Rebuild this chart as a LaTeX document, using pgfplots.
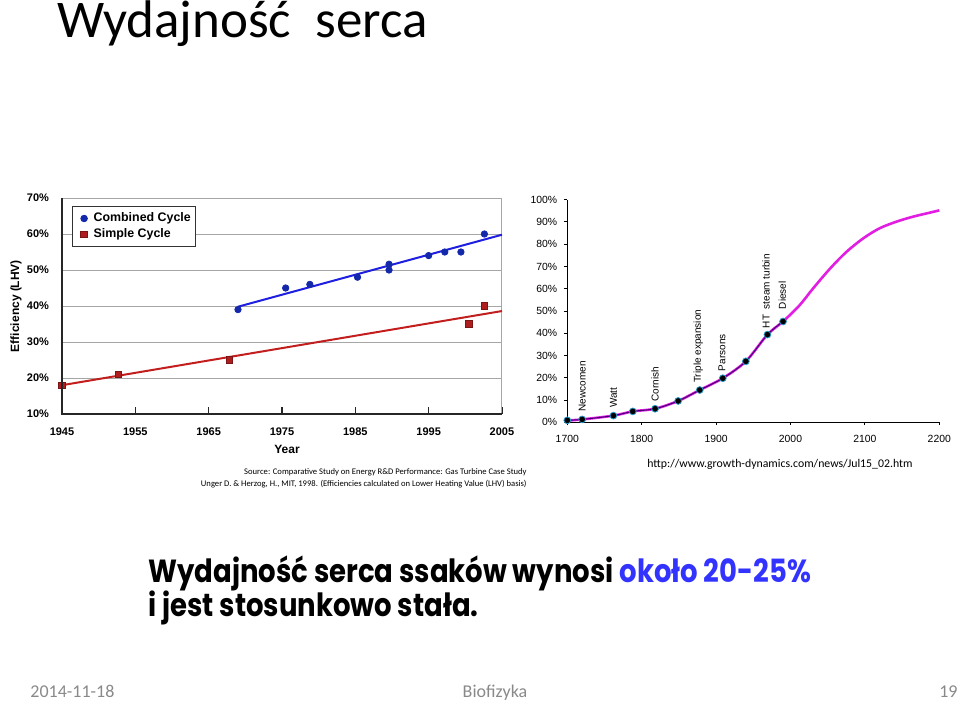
\documentclass[border=0pt]{standalone}
\usepackage{fontspec}
\setmainfont{Carlito}
\newfontfamily\arial{Liberation Sans}
\newfontfamily\comic[FakeStretch=0.86]{Poppins}
\usepackage{pgfplots}
\pgfplotsset{compat=1.18}
\definecolor{ccblue}{RGB}{20,40,170}
\definecolor{lineblue}{RGB}{30,30,225}
\definecolor{scred}{RGB}{175,30,30}
\definecolor{linered}{RGB}{195,30,30}
\definecolor{magcurve}{RGB}{225,30,225}
\definecolor{darkpts}{RGB}{70,0,120}
\definecolor{okblue}{RGB}{51,51,255}
\definecolor{footgray}{RGB}{137,137,137}
\begin{document}
\begin{tikzpicture}
\useasboundingbox (0,0) rectangle (480pt,354.5pt);
\begin{scope}[x=0.5pt,y=0.5pt]
\node[anchor=base west, inner sep=0, font=\fontsize{26.5pt}{30pt}\selectfont] at (57,671) {Wydajność\ \ serca};
\node[rotate=90, inner sep=0, font=\arial\bfseries\fontsize{6pt}{7pt}\selectfont] at (16,403) {Efficiency (LHV)};
\node[inner sep=0, font=\arial\bfseries\fontsize{6pt}{7pt}\selectfont] at (287,260) {Year};
\node[anchor=base east, inner sep=0, font=\fontsize{4.3pt}{5pt}\selectfont] at (527,235) {Source: Comparative Study on Energy R\&D Performance: Gas Turbine Case Study};
\node[anchor=base east, inner sep=0, font=\fontsize{4.3pt}{5pt}\selectfont] at (527,223) {Unger D. \& Herzog, H., MIT, 1998. (Efficiencies calculated on Lower Heating Value (LHV) basis)};
\node[anchor=base west, inner sep=0, font=\fontsize{5.9pt}{7pt}\selectfont] at (647,242) {http://www.growth-dynamics.com/news/Jul15\_02.htm};
\node[anchor=base west, inner sep=0, font=\comic\bfseries\fontsize{16pt}{18pt}\selectfont] at (148,127) {Wydajność serca ssaków wynosi \textcolor{okblue}{około 20-25\%}};
\node[anchor=base west, inner sep=0, font=\comic\bfseries\fontsize{16pt}{18pt}\selectfont] at (148,93) {i jest stosunkowo stała.};
\node[anchor=base west, inner sep=0, text=footgray, font=\fontsize{9pt}{10pt}\selectfont] at (30,12) {2014-11-18};
\node[anchor=base, inner sep=0, text=footgray, font=\fontsize{9pt}{10pt}\selectfont] at (495,12) {Biofizyka};
\node[anchor=base east, inner sep=0, text=footgray, font=\fontsize{9pt}{10pt}\selectfont] at (958,12) {19};
\end{scope}

% Left chart
\begin{axis}[
  at={(31pt,147.5pt)}, anchor=south west,
  scale only axis, width=220pt, height=108pt,
  xmin=1945, xmax=2005, ymin=10, ymax=70,
  xtick={1945,1955,...,2005}, ytick={10,20,...,70},
  /pgf/number format/1000 sep={},
  /pgf/number format/assume math mode=true,
  yticklabel={\pgfmathprintnumber{\tick}\%},
  tick label style={font=\arial\bfseries\fontsize{5.5pt}{6pt}\selectfont},
  yticklabel style={xshift=-3pt},
  xticklabel style={yshift=-3.5pt},
  ymajorgrids, grid style={gray!70, line width=0.5pt},
  axis line style={gray!70, line width=0.5pt},
  tick align=inside, xtick pos=left, major tick length=3.5pt,
  xtick style={gray!30!black, line width=0.6pt},
  ytick style={draw=none},
  clip=false,
  legend cell align=left,
  legend image code/.code={\path (0pt,0pt) (7.5pt,0pt); \draw[#1] plot coordinates {(4pt,0pt)};},
  legend style={at={(0.023,0.963)}, anchor=north west, draw=gray!40!black, line width=0.5pt,
    font=\arial\bfseries\fontsize{6.2pt}{7pt}\selectfont, inner xsep=1.5pt, inner ysep=2pt, row sep=0pt,
    column sep=0pt, nodes={inner ysep=1pt, inner xsep=1pt}},
  after end axis/.code={\draw[gray!30!black, line width=1pt] (rel axis cs:0,1) -- (rel axis cs:0,0) -- (rel axis cs:1,0);}
]
\addplot[lineblue, line width=1pt, forget plot] coordinates {(1969,39.8) (2005,59.8)};
\addplot[linered, line width=1pt, forget plot] coordinates {(1945,18) (2005,38.6)};
\addplot[only marks, mark=*, mark size=1.6pt, mark options={fill=ccblue, draw=ccblue}] coordinates {
(1969,39) (1975.5,45) (1978.8,46) (1985.3,48) (1989.6,51.6) (1989.6,50) (1995,54) (1997.2,55) (1999.4,55) (2002.6,60)};
\addlegendentry{Combined Cycle}
\addplot[only marks, mark=square*, mark size=1.6pt, mark options={fill=scred, draw=scred!70!black}] coordinates {
(1945,18) (1952.7,21) (1967.8,25) (2000.5,35) (2002.6,40)};
\addlegendentry{Simple Cycle}
\end{axis}

% Right chart
\begin{axis}[
  at={(283.65pt,143.35pt)}, anchor=south west,
  scale only axis, width=186pt, height=111.3pt,
  xmin=1700, xmax=2200, ymin=0, ymax=100,
  xtick={1700,1800,...,2200}, ytick={0,10,...,100},
  axis lines=left, axis line style={-, black, line width=0.5pt},
  /pgf/number format/1000 sep={},
  /pgf/number format/assume math mode=true,
  yticklabel={\pgfmathprintnumber{\tick}\%},
  tick label style={font=\arial\fontsize{5.2pt}{6pt}\selectfont},
  xticklabel style={yshift=-1.3pt},
  tick align=outside, major tick length=1.5pt,
  tick style={black, line width=0.5pt},
  clip=false
]
\addplot[magcurve, line width=1.3pt, smooth] coordinates {
(1700,0.8) (1720,1.3) (1762,3.0) (1788,4.9) (1818,6.1) (1849,9.6) (1878,14.5) (1909,19.8) (1940,27.4) (1969,39.4) (1990,45.3) (2012,52.5) (2030,60) (2053,69) (2075,76.5) (2098,82.7) (2120,87.2) (2143,90.2) (2165,92.4) (2185,94) (2200,95.2)};
\addplot[darkpts, line width=0.5pt, smooth, mark=*, mark size=1.7pt, mark options={fill=black, draw=cyan!80!black, line width=0.4pt}] coordinates {
(1700,0.9) (1720,1.3) (1762,3.0) (1788,4.9) (1818,6.1) (1849,9.6) (1878,14.5) (1909,19.8) (1940,27.4) (1969,39.4) (1990,45.3)};
\begin{scope}[every node/.style={rotate=90, anchor=west, inner ysep=0pt, font=\arial\fontsize{5pt}{6pt}\selectfont}]
\node[inner xsep=3.8pt] at (axis cs:1720,1.3) {Newcomen};
\node[inner xsep=3.7pt] at (axis cs:1762,3.0) {Watt};
\node[inner xsep=3.5pt] at (axis cs:1818,6.1) {Cornish};
\node[inner xsep=3.4pt] at (axis cs:1876,14.5) {Triple expansion};
\node[inner xsep=3.4pt] at (axis cs:1908,19.8) {Parsons};
\node[inner xsep=3.0pt] at (axis cs:1967,39.4) {HT\ \ steam turbin};
\node[inner xsep=6pt] at (axis cs:1989,45.3) {Diesel};
\end{scope}
\end{axis}
\end{tikzpicture}
\end{document}
